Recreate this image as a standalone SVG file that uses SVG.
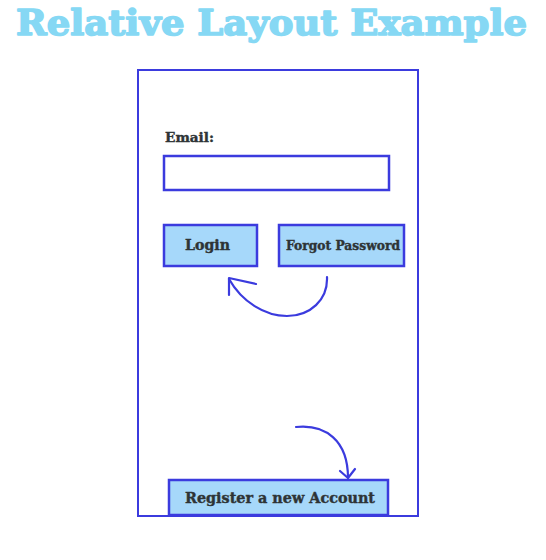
<svg xmlns="http://www.w3.org/2000/svg" width="546" height="560" viewBox="0 0 546 560">
<defs>
<style>
.title{font-family:"DejaVu Serif","Liberation Serif",serif;font-weight:bold;font-size:36px;fill:#86d8f4;stroke:#86d8f4;stroke-width:1.6;stroke-linejoin:round}
.frame{fill:#ffffff;stroke:#3b3bde;stroke-width:2}
.box{fill:#ffffff;stroke:#3b3bde;stroke-width:2.5}
.btn{fill:#a6d8fa;stroke:#3b3bde;stroke-width:2.5}
.lbl{font-family:"DejaVu Serif","Liberation Serif",serif;font-weight:bold;fill:#2e3436;stroke:#2e3436;stroke-width:0.4}
.conn{fill:none;stroke:#3b3bde;stroke-width:2.2;stroke-linecap:round;stroke-linejoin:round}
</style>
</defs>
<rect width="546" height="560" fill="#ffffff"/>
<text class="title" x="16" y="35" textLength="511" lengthAdjust="spacingAndGlyphs">Relative Layout Example</text>
<g id="frame"><rect class="frame" x="138" y="70" width="280" height="446"/></g>
<g id="email-label"><text class="lbl" x="165" y="142" font-size="13" textLength="49" lengthAdjust="spacingAndGlyphs">Email:</text></g>
<g id="email-input"><rect class="box" x="164" y="156" width="225" height="34"/></g>
<g id="login"><rect class="btn" x="164" y="225" width="93" height="41"/><text class="lbl" x="207.5" y="250" font-size="14" text-anchor="middle" textLength="45" lengthAdjust="spacingAndGlyphs">Login</text></g>
<g id="forgot"><rect class="btn" x="279" y="225" width="125" height="41"/><text class="lbl" x="343" y="250" font-size="12.5" text-anchor="middle" textLength="114" lengthAdjust="spacingAndGlyphs">Forgot Password</text></g>
<g id="register"><rect class="btn" x="169" y="480" width="219" height="35"/><text class="lbl" x="280" y="503" font-size="14" text-anchor="middle" textLength="190" lengthAdjust="spacingAndGlyphs">Register a new Account</text></g>
<g id="connectors">
<path class="conn" d="M327,277 C328,300 310,316 287,316 C265,316 242,302 229,279"/>
<path class="conn" d="M256,284 L229,278 L229,295"/>
<path class="conn" d="M296,427 C325,424 348,440 348,478"/>
<path class="conn" d="M340,471 L348,478 L355,469"/>
</g>
</svg>
